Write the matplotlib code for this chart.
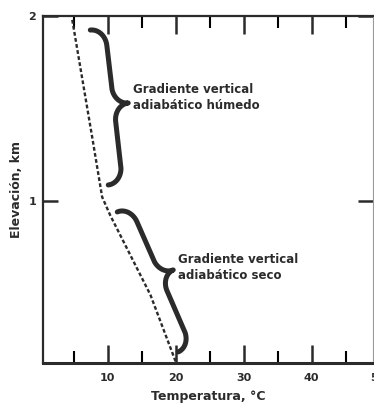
import matplotlib.pyplot as plt
import numpy as np

plt.rcParams['font.family'] = ['DejaVu Sans']
plt.rcParams['font.weight'] = 'bold'
plt.rcParams['axes.labelweight'] = 'bold'

ink = '#2b2b2b'

# temperature profile (dashed line)
temp = [20.0, 16.3, 10.4, 9.2, 7.8, 4.8]
elev = [0.13, 0.49, 0.92, 1.02, 1.33, 1.98]

# brace annotations: top end, bottom end, tip (data coords)
brace_top = [(7.46, 1.924), (10.10, 1.085), (13.04, 1.529)]
brace_bot = [(11.43, 0.939), (20.40, 0.181), (19.66, 0.625)]
label_top = 'Gradiente vertical\nadiabático húmedo'
label_bot = 'Gradiente vertical\nadiabático seco'

xticks_major = [10, 20, 30, 40]
xticks_minor = [5, 15, 25, 35, 45]


def brace(ax, p0, p1, tip, c=0.11, n=40):
	# work in display pixels so the shape is not skewed by the axis units
	tr = ax.transData
	p0, p1, tip = tr.transform([p0, p1, tip])
	ax_vec = p1 - p0
	ut = np.dot(tip - p0, ax_vec) / np.dot(ax_vec, ax_vec)
	nvec = tip - (p0 + ut * ax_vec)
	q = np.linspace(0, 1, n) * np.pi / 2

	def half(L):
		u1 = c * (1 - np.cos(q)); v1 = 0.5 * np.sin(q)
		u2 = np.linspace(c, L - c, n); v2 = np.full(n, 0.5)
		u3 = L - c + c * np.sin(q); v3 = 0.5 + 0.5 * (1 - np.cos(q))
		return np.concatenate([u1, u2, u3]), np.concatenate([v1, v2, v3])

	ua, va = half(ut)
	ub, vb = half(1 - ut)
	u = np.concatenate([ua, 1 - ub[::-1]])
	v = np.concatenate([va, vb[::-1]])
	pts = p0[None, :] + u[:, None] * ax_vec[None, :] + v[:, None] * nvec[None, :]
	pts = tr.inverted().transform(pts)
	return pts[:, 0], pts[:, 1]


fig = plt.figure(figsize=(3.74, 4.04), dpi=100)
ax = fig.add_axes([43 / 374, 41 / 404, (372.7 - 43) / 374, (363 - 16) / 404])
ax.set_xlim(0.5, 49.0)
ax.set_ylim(0.121, 2.0)

ax.plot(temp, elev, color=ink, lw=1.7, dashes=(1.6, 1.0))

for (p0, p1, tp) in [brace_top, brace_bot]:
	bx, by = brace(ax, p0, p1, tp)
	ax.plot(bx, by, color=ink, lw=3.6, solid_capstyle='round', solid_joinstyle='round')

ax.text(13.8, 1.556, label_top, fontsize=8.5, color=ink, va='center', ha='left', linespacing=1.3)
ax.text(20.4, 0.636, label_bot, fontsize=8.5, color=ink, va='center', ha='left', linespacing=1.3)

ax.set_xticks(xticks_major)
ax.set_xticks(xticks_minor, minor=True)
ax.set_yticks([1, 2])
ax.set_yticklabels(['1', '2'])
ax.tick_params(axis='x', which='major', direction='in', length=13, width=1.8, top=True,
	labelsize=8, colors=ink, pad=7)
ax.tick_params(axis='x', which='minor', direction='in', length=8.5, width=1.5, top=True)
ax.tick_params(axis='y', which='major', direction='in', length=11, width=1.8, right=True,
	labelsize=8, colors=ink, pad=5)
# the 50 label sits just past the right edge, half cut as in the original
ax.text(49.75, 0.121 - 0.083, '50', fontsize=8, color=ink, ha='center', va='center', clip_on=False)

for side, lw, col in [('left', 1.6, ink), ('bottom', 2.2, ink), ('top', 1.6, ink), ('right', 0.8, '#999999')]:
	ax.spines[side].set_linewidth(lw)
	ax.spines[side].set_color(col)

ax.set_xlabel('Temperatura, °C', fontsize=9, color=ink, labelpad=5)
ax.set_ylabel('Elevación, km', fontsize=9, color=ink, labelpad=4)

fig.savefig('out.png', dpi=100)
